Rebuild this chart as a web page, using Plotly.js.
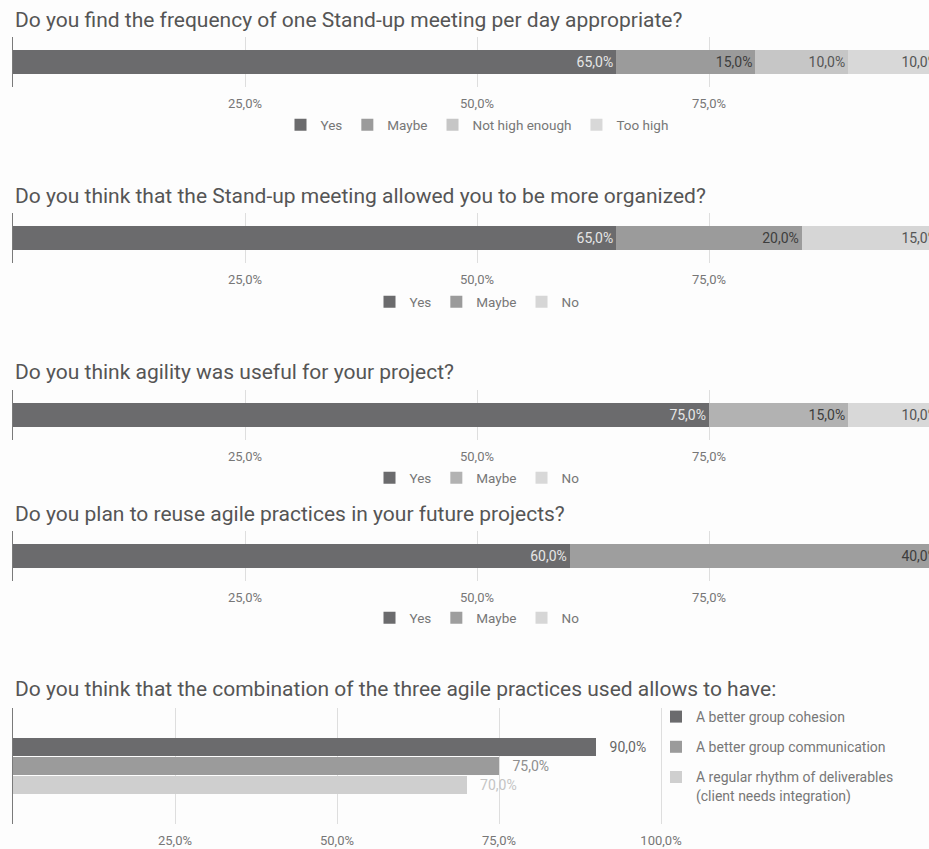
<!DOCTYPE html>
<html>
<head>
<meta charset="utf-8">
<script src="https://cdn.plot.ly/plotly-3.0.1.min.js"></script>
<style>
  html, body { margin: 0; padding: 0; background: #fdfdfd; }
  #chart { width: 929px; height: 849px; }
</style>
</head>
<body>
<div id="chart"></div>
<script>
// ---- DATA ----
const TITLES = [
  'Do you find the frequency of one Stand-up meeting per day appropriate?',
  'Do you think that the Stand-up meeting allowed you to be more organized?',
  'Do you think agility was useful for your project?',
  'Do you plan to reuse agile practices in your future projects?',
  'Do you think that the combination of the three agile practices used allows to have:'
];
const Q1_LABELS = ['Yes', 'Maybe', 'Not high enough', 'Too high'];
const Q1_VALUES = [65, 15, 10, 10];
const Q2_LABELS = ['Yes', 'Maybe', 'No'];
const Q2_VALUES = [65, 20, 15];
const Q3_LABELS = ['Yes', 'Maybe', 'No'];
const Q3_VALUES = [75, 15, 10];
const Q4_LABELS = ['Yes', 'Maybe', 'No'];
const Q4_VALUES = [60, 40, 0];
const Q5_LABELS = ['A better group cohesion', 'A better group communication',
                   'A regular rhythm of deliverables<br>(client needs integration)'];
const Q5_VALUES = [90, 75, 70];
const X_TICKS = [25, 50, 75];
const X_TICKS_5 = [25, 50, 75, 100];

// ---- STYLE ----
const FONT = 'Roboto, "Noto Sans", sans-serif';
const COLORS_1 = ['#6b6b6d', '#9b9b9b', '#c6c6c6', '#d8d8d8'];
const COLORS_2 = ['#6b6b6d', '#9b9b9b', '#d6d6d6'];
const COLORS_3 = ['#6b6b6d', '#b2b2b2', '#d8d8d8'];
const COLORS_4 = ['#6b6b6d', '#9e9e9e', '#d6d6d6'];
const COLORS_5 = ['#6b6b6d', '#9b9b9b', '#cfcfcf'];
const INSIDE_TEXT_1 = ['#e6e6e6', '#3d3d3d', '#555555', '#555555'];
const INSIDE_TEXT_3 = ['#e6e6e6', '#3d3d3d', '#555555'];
const OUT_TEXT_5 = ['#666666', '#8f8f8f', '#c4c4c4'];

const fmtPct = v => v.toFixed(1).replace('.', ',') + '%';

const W = 929, H = 849;
const X0 = 13;                       // pixel of 0%
const PX_PER_PCT = 9.28;             // charts 1-4
const PX_PER_PCT_5 = 6.48;           // chart 5
// plot area vertical pixel ranges [top, bottom]
const PLOT_PX = [[37, 87], [213, 263], [390, 440], [531, 581], [708, 824]];
const LEGEND_PX = [125, 302, 478, 618];
const TITLE_PX = [20, 196, 372, 514, 689];

function ydom(i) { return [1 - PLOT_PX[i][1] / H, 1 - PLOT_PX[i][0] / H]; }

const traces = [];
const stacks = [
  [Q1_LABELS, Q1_VALUES, COLORS_1, INSIDE_TEXT_1],
  [Q2_LABELS, Q2_VALUES, COLORS_2, INSIDE_TEXT_3],
  [Q3_LABELS, Q3_VALUES, COLORS_3, INSIDE_TEXT_3],
  [Q4_LABELS, Q4_VALUES, COLORS_4, INSIDE_TEXT_3]
];
stacks.forEach((s, i) => {
  const [labels, values, colors, tcolors] = s;
  const ax = i === 0 ? '' : String(i + 1);
  labels.forEach((lab, j) => {
    traces.push({
      type: 'bar', orientation: 'h',
      x: [values[j]], y: ['q'],
      name: lab,
      xaxis: 'x' + ax, yaxis: 'y' + ax,
      legend: 'legend' + ax,
      marker: { color: colors[j], line: { width: 0 } },
      texttemplate: '%{x:.1f}%',
      textposition: 'inside',
      insidetextanchor: 'end',
      textangle: 0,
      insidetextfont: { family: FONT, size: 14, color: tcolors[j] },
      hoverinfo: 'skip'
    });
  });
});
Q5_LABELS.forEach((lab, j) => {
  traces.push({
    type: 'bar', orientation: 'h',
    x: [Q5_VALUES[j]], y: ['c' + j],
    name: lab,
    xaxis: 'x5', yaxis: 'y5',
    legend: 'legend5',
    legendgroup: 'g' + j,
    width: 0.93,
    marker: { color: COLORS_5[j], line: { width: 0 } },
    texttemplate: '\u00a0\u00a0\u00a0%{x:.1f}%',
    textposition: 'outside',
    cliponaxis: false,
    outsidetextfont: { family: FONT, size: 14, color: OUT_TEXT_5[j] },
    hoverinfo: 'skip'
  });
});

const layout = {
  width: W, height: H,
  margin: { l: 0, r: 0, t: 0, b: 0 },
  paper_bgcolor: '#fdfdfd', plot_bgcolor: '#fdfdfd',
  separators: ',.',
  barmode: 'stack',
  bargap: 0.52,
  showlegend: true,
  uniformtext: { mode: 'hide', minsize: 10 },
  font: { family: FONT, color: '#777' },
  annotations: TITLES.map((t, i) => ({
    text: t, xref: 'paper', yref: 'paper',
    x: X0 / W, y: 1 - TITLE_PX[i] / H,
    xanchor: 'left', yanchor: 'middle', showarrow: false,
    font: { family: FONT, size: 21, color: '#555' }
  }))
};

for (let i = 0; i < 5; i++) {
  const ax = i === 0 ? '' : String(i + 1);
  const is5 = i === 4;
  const xEnd = is5 ? 665 : W;
  const ppp = is5 ? PX_PER_PCT_5 : PX_PER_PCT;
  const tv = is5 ? X_TICKS_5 : X_TICKS;
  layout['xaxis' + ax] = {
    domain: [X0 / W, xEnd / W],
    range: [0, (xEnd - X0) / ppp],
    anchor: 'y' + ax,
    tickmode: 'array',
    tickvals: tv,
    ticktext: tv.map(fmtPct),
    ticks: 'outside', ticklen: 4, tickcolor: 'rgba(0,0,0,0)',
    tickfont: { family: FONT, size: 13, color: '#777' },
    showgrid: true, gridcolor: '#dedede', gridwidth: 1,
    zeroline: false, showline: false, fixedrange: true
  };
  layout['yaxis' + ax] = {
    domain: ydom(i),
    anchor: 'x' + ax,
    showticklabels: false, showgrid: false, zeroline: false,
    showline: true, linecolor: '#7a7a7a', linewidth: 1.5,
    fixedrange: true
  };
  if (is5) {
    layout['yaxis5'].autorange = false;
    layout['yaxis5'].range = [4.05, -2.05];
    layout['yaxis5'].type = 'category';
  }
}

for (let i = 0; i < 4; i++) {
  const ax = i === 0 ? '' : String(i + 1);
  layout['legend' + ax] = {
    orientation: 'h',
    x: 477 / W, xanchor: 'center',
    y: 1 - LEGEND_PX[i] / H, yanchor: 'middle',
    bgcolor: 'rgba(0,0,0,0)',
    font: { family: FONT, size: 13.5, color: '#777' },
    traceorder: 'normal'
  };
}
layout['legend5'] = {
  orientation: 'v',
  x: 656 / W, xanchor: 'left',
  y: 1 - 701 / H, yanchor: 'top',
  bgcolor: 'rgba(0,0,0,0)',
  font: { family: FONT, size: 14, color: '#777' },
  traceorder: 'grouped',
  tracegroupgap: 9,
  valign: 'top'
};

Plotly.newPlot('chart', traces, layout, { displayModeBar: false, staticPlot: true });
</script>
</body>
</html>
